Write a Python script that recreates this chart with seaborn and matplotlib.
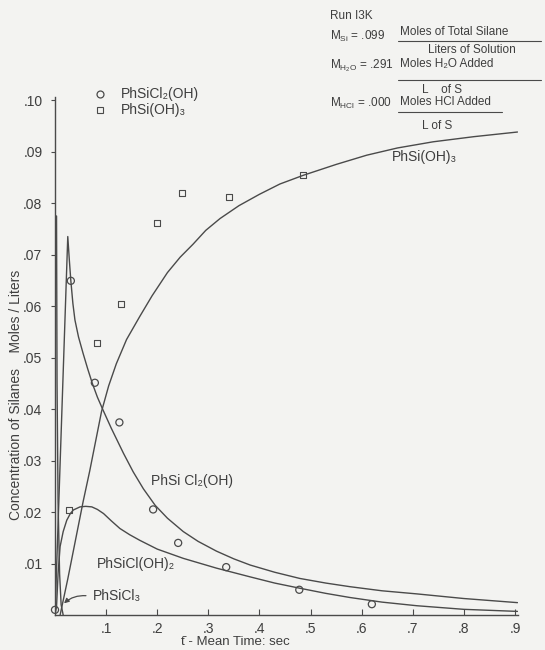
import matplotlib
matplotlib.use("Agg")
import matplotlib.pyplot as plt
import seaborn as sns
from matplotlib.lines import Line2D

# ---- fitted curves (time in s, concentration in mol/L)
sioh3_t = [0.010, 0.025, 0.040, 0.055, 0.068, 0.080, 0.091, 0.105, 0.120, 0.140, 0.166, 0.190,
           0.220, 0.245, 0.270, 0.295, 0.323, 0.360, 0.400, 0.440, 0.486, 0.550, 0.610, 0.670,
           0.740, 0.820, 0.905]
sioh3_c = [0.000, 0.007, 0.0145, 0.022, 0.028, 0.034, 0.0395, 0.0445, 0.0488, 0.0535, 0.058, 0.062,
           0.0665, 0.0695, 0.072, 0.0747, 0.077, 0.0795, 0.0817, 0.0837, 0.0854, 0.0875, 0.0893, 0.0907,
           0.0919, 0.0929, 0.0938]

cl2oh_t = [0.000, 0.025, 0.028, 0.031, 0.035, 0.039, 0.046, 0.055, 0.064, 0.073, 0.083, 0.094,
           0.110, 0.134, 0.153, 0.173, 0.196, 0.220, 0.251, 0.280, 0.316, 0.350, 0.382, 0.430,
           0.479, 0.530, 0.577, 0.640, 0.708, 0.800, 0.905]
cl2oh_c = [0.000, 0.0735, 0.069, 0.0649, 0.0605, 0.0573, 0.054, 0.0508, 0.0478, 0.045, 0.0423, 0.0398,
           0.0363, 0.0314, 0.0278, 0.0245, 0.0213, 0.0188, 0.0162, 0.0143, 0.0124, 0.0109, 0.0097, 0.0083,
           0.0071, 0.0062, 0.0055, 0.0047, 0.0041, 0.0032, 0.0024]

cloh2_t = [0.000, 0.003, 0.006, 0.010, 0.016, 0.023, 0.030, 0.036, 0.049, 0.060, 0.072, 0.083,
           0.095, 0.110, 0.127, 0.146, 0.166, 0.200, 0.251, 0.316, 0.382, 0.430, 0.479, 0.530,
           0.577, 0.640, 0.708, 0.800, 0.905]
cloh2_c = [0.000, 0.0016, 0.008, 0.0133, 0.0162, 0.0184, 0.0197, 0.0204, 0.0210, 0.0211, 0.0210, 0.0205,
           0.0197, 0.0183, 0.0168, 0.0156, 0.0145, 0.0128, 0.0110, 0.0091, 0.0074, 0.0062, 0.0052, 0.0042,
           0.0034, 0.0025, 0.0018, 0.0011, 0.0007]

cl3_t = [0.003, 0.004, 0.006, 0.009, 0.012, 0.016]
cl3_c = [0.0775, 0.045, 0.022, 0.008, 0.002, 0.000]

# ---- measured points
cl2oh_pts_t = [0.000, 0.031, 0.078, 0.126, 0.192, 0.241, 0.335, 0.478, 0.620]
cl2oh_pts_c = [0.001, 0.0649, 0.0451, 0.0374, 0.0205, 0.0140, 0.0093, 0.0049, 0.0021]

sioh3_pts_t = [0.028, 0.082, 0.129, 0.200, 0.248, 0.341, 0.486]
sioh3_pts_c = [0.0204, 0.0528, 0.0604, 0.0761, 0.0819, 0.0812, 0.0854]

ytick_vals = [0.01, 0.02, 0.03, 0.04, 0.05, 0.06, 0.07, 0.08, 0.09, 0.10]
ytick_text = [".01", ".02", ".03", ".04", ".05", ".06", ".07", ".08", ".09", ".10"]
xtick_vals = [0.1, 0.2, 0.3, 0.4, 0.5, 0.6, 0.7, 0.8, 0.9]
xtick_text = [".1", ".2", ".3", ".4", ".5", ".6", ".7", ".8", ".9"]

BG = "#f3f3f1"
INK = "#3e3e3e"
LINE = "#4a4a4a"
W_PX, H_PX = 545, 650

sns.set_theme(style="white")
plt.rcParams["font.family"] = ["Liberation Sans", "DejaVu Sans"]
plt.rcParams["mathtext.default"] = "regular"

fig = plt.figure(figsize=(W_PX / 100, H_PX / 100), dpi=100)
fig.patch.set_facecolor(BG)
ax = fig.add_axes([55 / W_PX, 35 / H_PX, 462.5 / W_PX, 518 / H_PX])
ax.set_facecolor(BG)
ax.set_xlim(0, 0.905)
ax.set_ylim(0, 0.1006)

line_kw = dict(ax=ax, color=LINE, linewidth=1.0, sort=False, estimator=None, legend=False)
sns.lineplot(x=sioh3_t, y=sioh3_c, **line_kw)
sns.lineplot(x=cl2oh_t, y=cl2oh_c, **line_kw)
sns.lineplot(x=cloh2_t, y=cloh2_c, **line_kw)
sns.lineplot(x=cl3_t, y=cl3_c, **line_kw)

sns.scatterplot(x=cl2oh_pts_t, y=cl2oh_pts_c, ax=ax, marker="o", s=26,
                facecolor="none", edgecolor=LINE, linewidth=0.9, clip_on=False, zorder=5)
sns.scatterplot(x=sioh3_pts_t, y=sioh3_pts_c, ax=ax, marker="s", s=18,
                facecolor="none", edgecolor=LINE, linewidth=0.8, clip_on=False, zorder=5)

for side in ("top", "right"):
    ax.spines[side].set_visible(False)
for side in ("left", "bottom"):
    ax.spines[side].set_color(LINE)
    ax.spines[side].set_linewidth(1.0)

ax.set_yticks(ytick_vals)
ax.set_yticklabels(ytick_text)
ax.set_xticks(xtick_vals)
ax.set_xticklabels(xtick_text)
ax.tick_params(axis="y", direction="out", length=3, width=0.8, color=LINE,
               labelsize=10, labelcolor=INK, pad=6, left=True)
ax.tick_params(axis="x", direction="in", length=4, width=0.8, color=LINE,
               labelsize=10, labelcolor=INK, pad=5, bottom=True)
ax.set_xlabel("")
ax.set_ylabel("")

# curve labels
lab_kw = dict(fontsize=10, color=INK, va="center", ha="left")
ax.text(0.659, 0.0889, "PhSi(OH)\u2083", **lab_kw)
ax.text(0.188, 0.0260, "PhSi Cl\u2082(OH)", **lab_kw)
ax.text(0.082, 0.0099, "PhSiCl(OH)\u2082", **lab_kw)
ax.text(0.074, 0.0037, "PhSiCl\u2083", **lab_kw)
ax.annotate("", xy=(0.0137, 0.0019), xytext=(0.066, 0.0037),
            arrowprops=dict(arrowstyle="-|>", color=LINE, lw=0.9, mutation_scale=7,
                            connectionstyle="arc3,rad=0.25"))


def fx(x):
    return x / W_PX


def fy(y):
    return 1 - y / H_PX


# axis titles
fig.text(fx(16), fy(395), "Concentration of Silanes    Moles / Liters", rotation=90,
         fontsize=10, color=INK, ha="center", va="center")
fig.text(fx(235), fy(642), "t\u0304 - Mean Time: sec", fontsize=9.5, color=INK,
         ha="center", va="center")

# key
fig.add_artist(Line2D([fx(100)], [fy(94)], marker="o", ms=5, mfc="none", mec=LINE,
                      mew=0.9, linestyle="none", transform=fig.transFigure))
fig.add_artist(Line2D([fx(100)], [fy(110)], marker="s", ms=4, mfc="none", mec=LINE,
                      mew=0.8, linestyle="none", transform=fig.transFigure))
fig.text(fx(121), fy(94), "PhSiCl\u2082(OH)", fontsize=10, color=INK, va="center")
fig.text(fx(121), fy(110), "PhSi(OH)\u2083", fontsize=10, color=INK, va="center")

# run conditions
hdr = dict(fontsize=8.5, color=INK, va="center", ha="left")
fig.text(fx(330), fy(16), "Run I3K", **hdr)
fig.text(fx(330), fy(36), r"M$_{Si}$ = .099", **hdr)
fig.text(fx(330), fy(66), r"M$_{H_2O}$ = .291", **hdr)
fig.text(fx(330), fy(103), r"M$_{HCl}$ = .000", **hdr)

units = dict(fontsize=8.5, color=INK, va="center", ha="left")
fig.text(fx(400), fy(32), "Moles of Total Silane", **units)
fig.add_artist(Line2D([fx(398), fx(541)], [fy(41), fy(41)], color=LINE, lw=0.8,
                      transform=fig.transFigure))
fig.text(fx(428), fy(50), "Liters of Solution", **units)
fig.text(fx(400), fy(64), "Moles H\u2082O Added", **units)
fig.add_artist(Line2D([fx(398), fx(541)], [fy(80), fy(80)], color=LINE, lw=0.8,
                      transform=fig.transFigure))
fig.text(fx(422), fy(90), "L    of S", **units)
fig.text(fx(400), fy(102), "Moles HCl Added", **units)
fig.add_artist(Line2D([fx(398), fx(502)], [fy(112), fy(112)], color=LINE, lw=0.8,
                      transform=fig.transFigure))
fig.text(fx(422), fy(126), "L of S", **units)

fig.savefig("out.png", dpi=100, facecolor=BG)
